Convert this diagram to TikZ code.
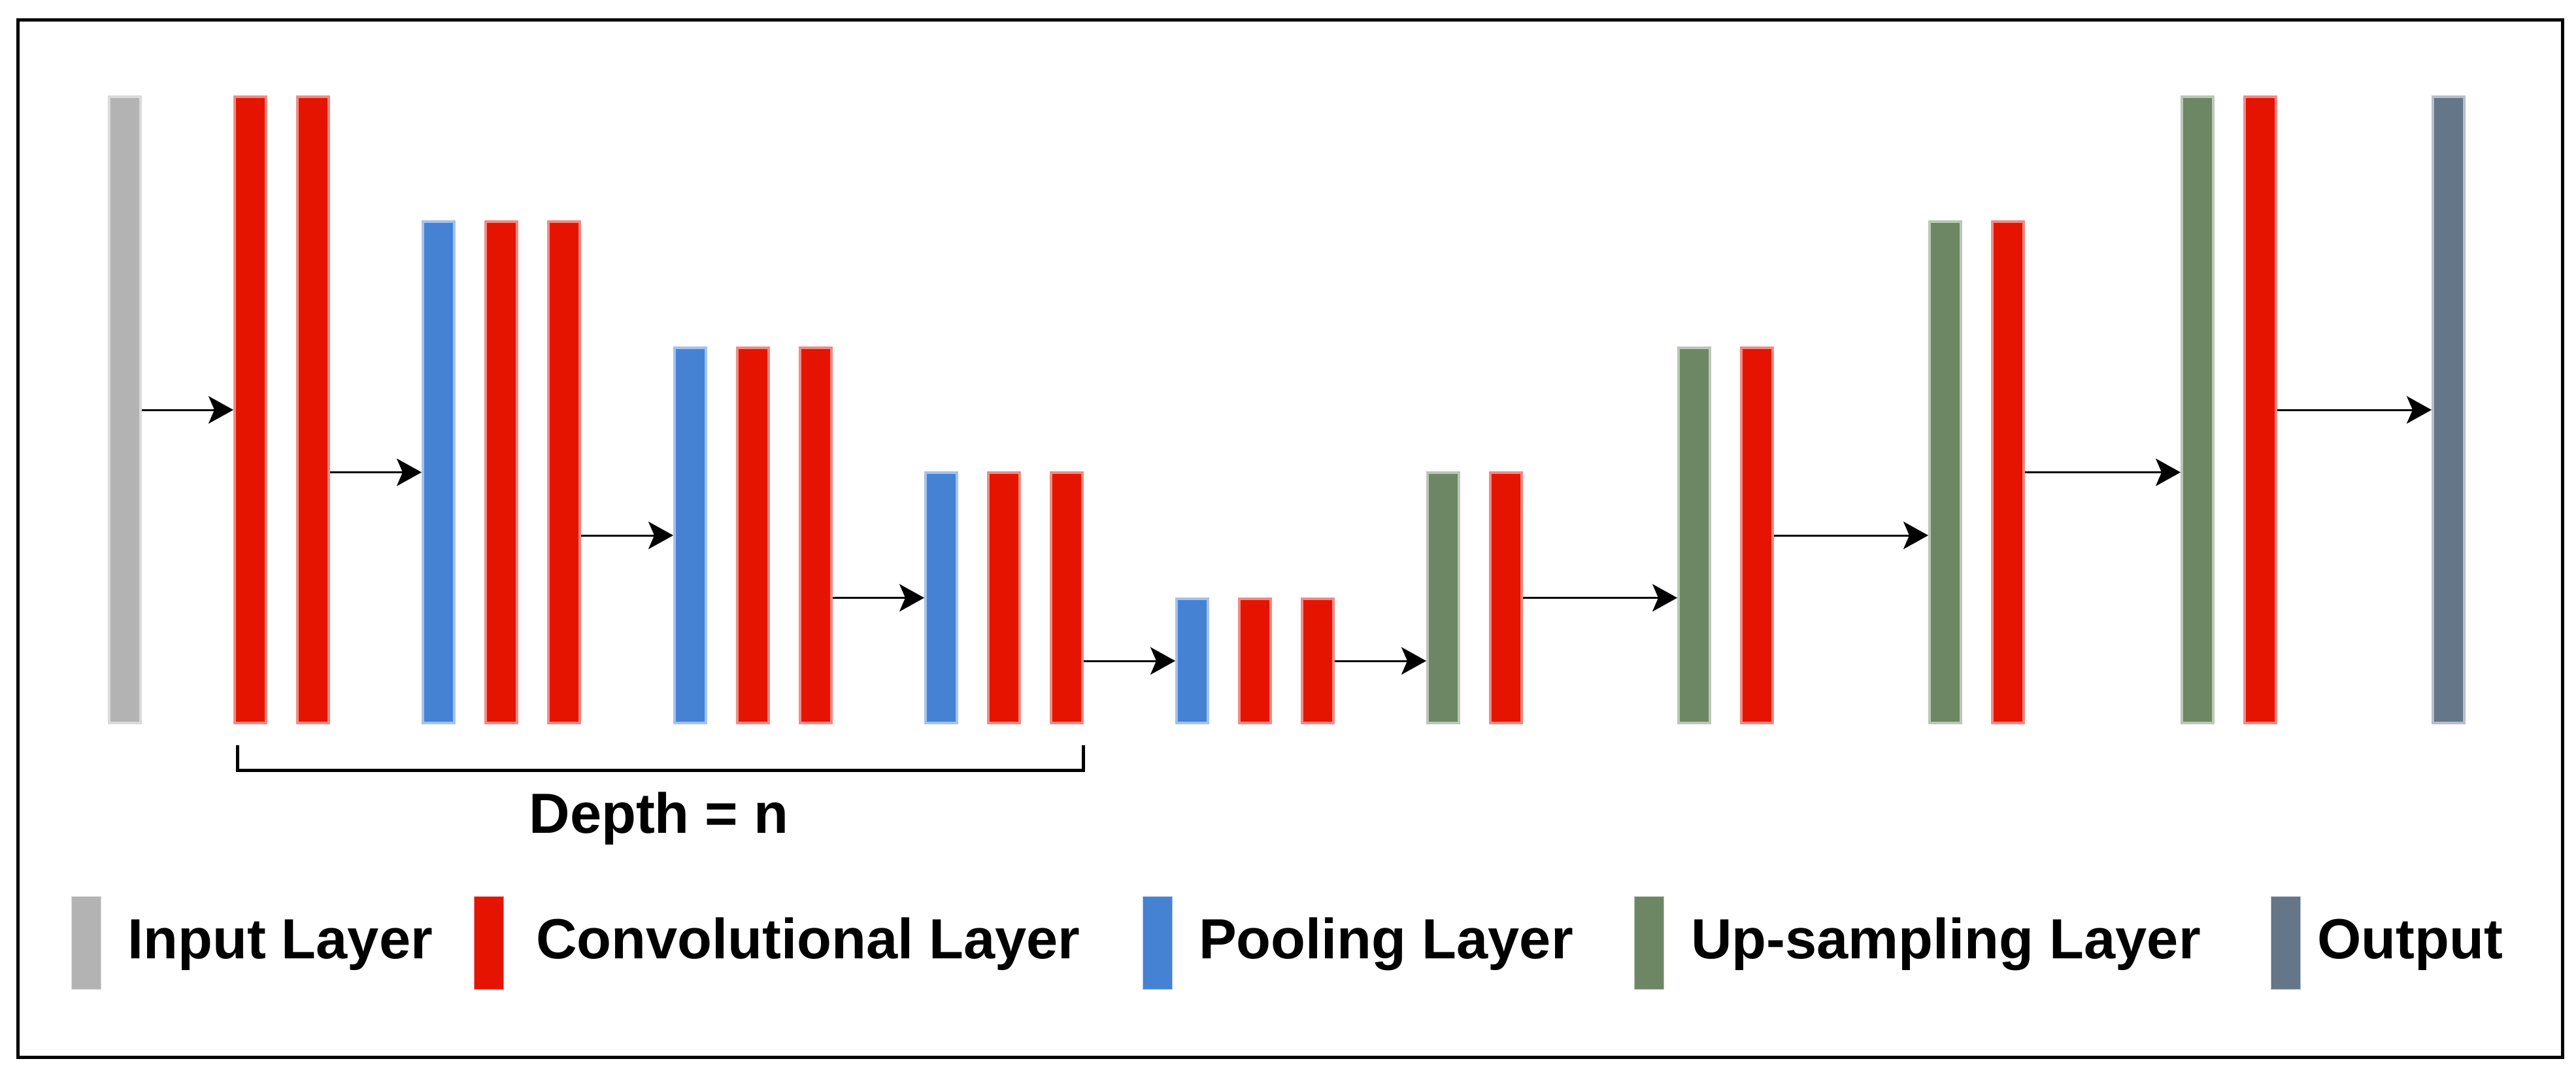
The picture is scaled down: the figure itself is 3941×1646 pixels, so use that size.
\documentclass[tikz,border=0pt]{standalone}
\usepackage{fontspec}
\setmainfont{Liberation Sans}
\usetikzlibrary{arrows.meta}
\definecolor{cred}{HTML}{E51400}
\definecolor{credS}{HTML}{F28B84}
\definecolor{cblue}{HTML}{4682D4}
\definecolor{cblueS}{HTML}{A4C2EC}
\definecolor{cgreen}{HTML}{6D8764}
\definecolor{cgreenS}{HTML}{BAC7B5}
\definecolor{cgray}{HTML}{B3B3B3}
\definecolor{cgrayS}{HTML}{DADADA}
\definecolor{cslate}{HTML}{647687}
\definecolor{cslateS}{HTML}{B5BFCA}
\begin{document}
\begin{tikzpicture}[x=1pt,y=-1pt,
  bar/.style={rectangle,inner sep=0pt,line width=4pt,minimum width=48pt,anchor=north west},
  lvA/.style={minimum height=958pt},
  lvB/.style={minimum height=767pt},
  lvC/.style={minimum height=574pt},
  lvD/.style={minimum height=383pt},
  lvE/.style={minimum height=190pt},
  conv/.style={bar,fill=cred,draw=credS},
  pool/.style={bar,fill=cblue,draw=cblueS},
  upsm/.style={bar,fill=cgreen,draw=cgreenS},
  inlay/.style={bar,fill=cgray,draw=cgrayS},
  outlay/.style={bar,fill=cslate,draw=cslateS},
  swatch/.style={rectangle,inner sep=0pt,line width=1pt,minimum width=45pt,minimum height=142pt,anchor=north west},
  arr/.style={line width=3pt,-{Stealth[length=38pt,width=42pt,inset=9pt]}},
  lbl/.style={inner sep=0pt,anchor=base west,font=\fontsize{86.6}{100}\selectfont\bfseries},
]
\useasboundingbox (0,0) rectangle (3941,1646);
\draw[line width=5pt] (27,31) rectangle (3920,1617);

% bars
\node[inlay,lvA] (in) at (165,146) {};
\node[conv,lvA] (c1a) at (357,146) {};
\node[conv,lvA] (c1b) at (453,146) {};

\node[pool,lvB] (p2) at (645,337) {};
\node[conv,lvB] (c2a) at (741,337) {};
\node[conv,lvB] (c2b) at (837,337) {};

\node[pool,lvC] (p3) at (1030,530) {};
\node[conv,lvC] (c3a) at (1126,530) {};
\node[conv,lvC] (c3b) at (1222,530) {};

\node[pool,lvD] (p4) at (1414,721) {};
\node[conv,lvD] (c4a) at (1510,721) {};
\node[conv,lvD] (c4b) at (1606,721) {};

\node[pool,lvE] (p5) at (1798,914) {};
\node[conv,lvE] (c5a) at (1894,914) {};
\node[conv,lvE] (c5b) at (1990,914) {};

\node[upsm,lvD] (u6) at (2182,721) {};
\node[conv,lvD] (c6) at (2278,721) {};

\node[upsm,lvC] (u7) at (2566,530) {};
\node[conv,lvC] (c7) at (2662,530) {};

\node[upsm,lvB] (u8) at (2950,337) {};
\node[conv,lvB] (c8) at (3046,337) {};

\node[upsm,lvA] (u9) at (3336,146) {};
\node[conv,lvA] (c9) at (3432,146) {};

\node[outlay,lvA] (out) at (3720,146) {};

% arrows
\draw[arr] (in.east) -- (c1a.west);
\draw[arr] (c1b.east |- p2.west) -- (p2.west);
\draw[arr] (c2b.east |- p3.west) -- (p3.west);
\draw[arr] (c3b.east |- p4.west) -- (p4.west);
\draw[arr] (c4b.east |- p5.west) -- (p5.west);
\draw[arr] (c5b.east) -- (c5b.east -| u6.west);
\draw[arr] (c6.east) -- (c6.east -| u7.west);
\draw[arr] (c7.east) -- (c7.east -| u8.west);
\draw[arr] (c8.east) -- (c8.east -| u9.west);
\draw[arr] (c9.east) -- (out.west);

% depth bracket
\coordinate (brL) at (363,1140);
\coordinate (brR) at (1657,1140);
\draw[line width=5pt] (brL) -- ++(0,38) -| (brR);
\node[inner sep=0pt,anchor=base,font=\fontsize{86.6}{100}\selectfont\bfseries] (depth) at (1008,1274) {Depth = n};

% legend
\node[swatch,fill=cgray,draw=cgrayS] (sw1) at (109,1371) {};
\node[lbl] (t1) at (195,1466) {Input Layer};
\node[swatch,fill=cred,draw=credS] (sw2) at (725,1371) {};
\node[lbl] (t2) at (820,1466) {Convolutional Layer};
\node[swatch,fill=cblue,draw=cblueS] (sw3) at (1748,1371) {};
\node[lbl] (t3) at (1834,1466) {Pooling Layer};
\node[swatch,fill=cgreen,draw=cgreenS] (sw4) at (2500,1371) {};
\node[lbl] (t4) at (2587,1466) {Up-sampling Layer};
\node[swatch,fill=cslate,draw=cslateS] (sw5) at (3474,1371) {};
\node[lbl] (t5) at (3545,1466) {Output};
\end{tikzpicture}
\end{document}
